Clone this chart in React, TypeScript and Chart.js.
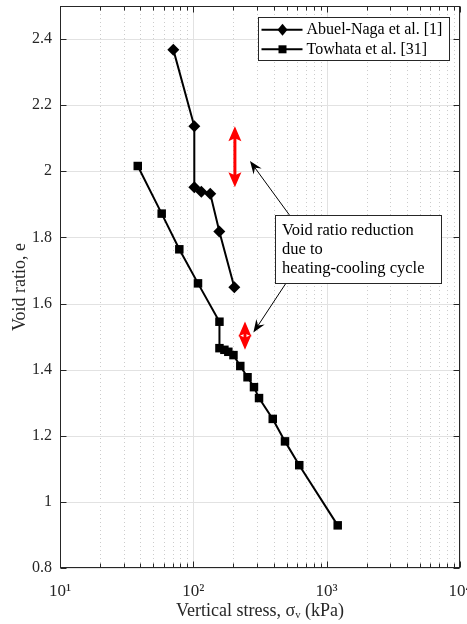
import React, { useEffect, useRef } from 'react';
import { Chart, registerables } from 'chart.js';

Chart.register(...registerables);

// ---------- data ----------
const seriesLabels = ['Abuel-Naga et al. [1]', 'Towhata et al. [31]'];
const abuelStress = [70.8, 101.7, 101.7, 114.8, 134, 156.7, 203];
const abuelVoid = [2.368, 2.136, 1.952, 1.938, 1.932, 1.818, 1.649];
const towhataStress = [38.3, 57.9, 78.5, 108.4, 157, 157, 171, 183, 200, 225, 255, 285, 311, 394, 487, 623, 1210];
const towhataVoid = [2.016, 1.872, 1.764, 1.661, 1.545, 1.465, 1.46, 1.454, 1.444, 1.411, 1.377, 1.347, 1.314, 1.251, 1.183, 1.111, 0.929];

const xMajorTicks = [10, 100, 1000, 10000];
const xTickLabels = ['10¹', '10²', '10³', '10⁴'];
const xMinorMultipliers = [2, 3, 4, 5, 6, 7, 8, 9];
const xDecades = [10, 100, 1000];
const yTicks = [0.8, 1, 1.2, 1.4, 1.6, 1.8, 2, 2.2, 2.4];
const yTickLabels = ['0.8', '1', '1.2', '1.4', '1.6', '1.8', '2', '2.2', '2.4'];

// annotations (data coordinates)
const redArrowX = [205, 244];
const redArrowTop = [2.136, 1.546];
const redArrowBottom = [1.952, 1.46];
const pointerFromX = [525, 496];
const pointerFromY = [1.868, 1.662];
const pointerToX = [266, 282];
const pointerToY = [2.031, 1.512];
const noteBoxX = [410, 7160];
const noteBoxY = [1.868, 1.662];
const noteLines = ['Void ratio reduction', 'due to', 'heating-cooling cycle'];

const FONT = "'Liberation Serif', 'Times New Roman', serif";
const INK = '#262626';

function arrowHead(ctx: CanvasRenderingContext2D, tx: number, ty: number, dx: number, dy: number, len: number, halfW: number, inset: number) {
  const n = Math.hypot(dx, dy) || 1;
  const ux = dx / n, uy = dy / n;
  const bx = tx - ux * len, by = ty - uy * len;
  const nx = -uy, ny = ux;
  ctx.beginPath();
  ctx.moveTo(tx, ty);
  ctx.lineTo(bx + nx * halfW, by + ny * halfW);
  ctx.lineTo(tx - ux * len * (1 - inset), ty - uy * len * (1 - inset));
  ctx.lineTo(bx - nx * halfW, by - ny * halfW);
  ctx.closePath();
  ctx.fill();
}

const decorPlugin = {
  id: 'decor',
  beforeDatasetsDraw(chart: any) {
    const { ctx, chartArea: a, scales } = chart;
    const x = scales.x, y = scales.y;
    ctx.save();
    ctx.lineWidth = 1;
    // minor x grid (dotted)
    ctx.strokeStyle = '#cccccc';
    ctx.setLineDash([1, 3]);
    xDecades.forEach((d) => {
      xMinorMultipliers.forEach((m) => {
        const px = Math.round(x.getPixelForValue(d * m)) + 0.5;
        ctx.beginPath();
        ctx.moveTo(px, a.top);
        ctx.lineTo(px, a.bottom);
        ctx.stroke();
      });
    });
    ctx.setLineDash([]);
    // major grid
    ctx.strokeStyle = '#e2e2e2';
    xMajorTicks.forEach((v) => {
      const px = Math.round(x.getPixelForValue(v)) + 0.5;
      ctx.beginPath();
      ctx.moveTo(px, a.top);
      ctx.lineTo(px, a.bottom);
      ctx.stroke();
    });
    yTicks.forEach((v) => {
      const py = Math.round(y.getPixelForValue(v)) + 0.5;
      ctx.beginPath();
      ctx.moveTo(a.left, py);
      ctx.lineTo(a.right, py);
      ctx.stroke();
    });
    ctx.restore();
  },
  afterDatasetsDraw(chart: any) {
    const { ctx, chartArea: a, scales } = chart;
    const x = scales.x, y = scales.y;
    ctx.save();
    // frame
    ctx.strokeStyle = INK;
    ctx.lineWidth = 1;
    const L = Math.round(a.left) + 0.5, R = Math.round(a.right) - 0.5;
    const T = Math.round(a.top) + 0.5, B = Math.round(a.bottom) - 0.5;
    ctx.strokeRect(L, T, R - L, B - T);
    // ticks
    ctx.beginPath();
    xMajorTicks.forEach((v) => {
      const px = Math.round(x.getPixelForValue(v)) + 0.5;
      ctx.moveTo(px, B); ctx.lineTo(px, B - 6);
      ctx.moveTo(px, T); ctx.lineTo(px, T + 6);
    });
    xDecades.forEach((d) => {
      xMinorMultipliers.forEach((m) => {
        const px = Math.round(x.getPixelForValue(d * m)) + 0.5;
        ctx.moveTo(px, B); ctx.lineTo(px, B - 4);
        ctx.moveTo(px, T); ctx.lineTo(px, T + 4);
      });
    });
    yTicks.forEach((v) => {
      const py = Math.round(y.getPixelForValue(v)) + 0.5;
      ctx.moveTo(L, py); ctx.lineTo(L + 6, py);
      ctx.moveTo(R, py); ctx.lineTo(R - 6, py);
    });
    ctx.stroke();

    // red double arrows
    ctx.fillStyle = '#ff0000';
    ctx.strokeStyle = '#ff0000';
    ctx.lineWidth = 3;
    redArrowX.forEach((v, i) => {
      const px = x.getPixelForValue(v);
      const pt = y.getPixelForValue(redArrowTop[i]);
      const pb = y.getPixelForValue(redArrowBottom[i]);
      ctx.beginPath();
      ctx.moveTo(px, pt + 10);
      ctx.lineTo(px, pb - 10);
      ctx.stroke();
      arrowHead(ctx, px, pt, 0, -1, 15, 6.5, 0.2);
      arrowHead(ctx, px, pb, 0, 1, 15, 6.5, 0.2);
    });

    // black pointer arrows
    ctx.strokeStyle = '#000';
    ctx.fillStyle = '#000';
    ctx.lineWidth = 1;
    pointerFromX.forEach((v, i) => {
      const fx = x.getPixelForValue(v), fy = y.getPixelForValue(pointerFromY[i]);
      const tx = x.getPixelForValue(pointerToX[i]), ty = y.getPixelForValue(pointerToY[i]);
      const dx = tx - fx, dy = ty - fy;
      const n = Math.hypot(dx, dy);
      ctx.beginPath();
      ctx.moveTo(fx, fy);
      ctx.lineTo(tx - (dx / n) * 8, ty - (dy / n) * 8);
      ctx.stroke();
      arrowHead(ctx, tx, ty, dx, dy, 13, 5, 0.35);
    });

    // note box
    const bx0 = Math.round(x.getPixelForValue(noteBoxX[0])) + 0.5;
    const bx1 = Math.round(x.getPixelForValue(noteBoxX[1])) + 0.5;
    const by0 = Math.round(y.getPixelForValue(noteBoxY[0])) + 0.5;
    const by1 = Math.round(y.getPixelForValue(noteBoxY[1])) + 0.5;
    ctx.fillStyle = '#fff';
    ctx.fillRect(bx0, by0, bx1 - bx0, by1 - by0);
    ctx.strokeStyle = INK;
    ctx.strokeRect(bx0, by0, bx1 - bx0, by1 - by0);
    ctx.fillStyle = '#000';
    ctx.font = `16.5px ${FONT}`;
    ctx.textAlign = 'left';
    ctx.textBaseline = 'middle';
    noteLines.forEach((t, i) => {
      ctx.fillText(t, bx0 + 6.5, by0 + 15 + i * 19.3);
    });

    // legend
    const lx0 = Math.round(a.right - 202) + 0.5;
    const lx1 = Math.round(a.right - 11) + 0.5;
    const ly0 = Math.round(a.top + 11) + 0.5;
    const ly1 = Math.round(a.top + 54) + 0.5;
    ctx.fillStyle = '#fff';
    ctx.fillRect(lx0, ly0, lx1 - lx0, ly1 - ly0);
    ctx.strokeStyle = INK;
    ctx.lineWidth = 1;
    ctx.strokeRect(lx0, ly0, lx1 - lx0, ly1 - ly0);
    chart.data.datasets.forEach((ds: any, i: number) => {
      const ry = a.top + 23.7 + i * 19.6;
      ctx.strokeStyle = '#000';
      ctx.lineWidth = 2;
      ctx.beginPath();
      ctx.moveTo(lx0 + 3, ry);
      ctx.lineTo(lx0 + 44, ry);
      ctx.stroke();
      ctx.fillStyle = '#000';
      const mx = lx0 + 24;
      ctx.beginPath();
      if (ds.pointStyle === 'rectRot') {
        ctx.moveTo(mx, ry - 6); ctx.lineTo(mx + 5, ry); ctx.lineTo(mx, ry + 6); ctx.lineTo(mx - 5, ry);
      } else {
        ctx.rect(mx - 4, ry - 4, 8, 8);
      }
      ctx.closePath();
      ctx.fill();
      ctx.font = `16px ${FONT}`;
      ctx.textBaseline = 'middle';
      ctx.fillText(ds.label, lx0 + 48, ry);
    });
    ctx.restore();
  },
};

export default function App() {
  const ref = useRef<HTMLCanvasElement | null>(null);
  useEffect(() => {
    if (!ref.current) return;
    const chart = new Chart(ref.current, {
      type: 'line',
      data: {
        datasets: [
          {
            label: seriesLabels[0],
            data: abuelStress.map((s, i) => ({ x: s, y: abuelVoid[i] })),
            borderColor: '#000',
            backgroundColor: '#000',
            borderWidth: 2,
            pointStyle: 'rectRot',
            pointRadius: 6,
            pointBorderWidth: 0,
            pointBackgroundColor: '#000',
            tension: 0,
          },
          {
            label: seriesLabels[1],
            data: towhataStress.map((s, i) => ({ x: s, y: towhataVoid[i] })),
            borderColor: '#000',
            backgroundColor: '#000',
            borderWidth: 2,
            pointStyle: 'rect',
            pointRadius: 6,
            pointBorderWidth: 0,
            pointBackgroundColor: '#000',
            tension: 0,
          },
        ],
      },
      options: {
        animation: false,
        responsive: false,
        devicePixelRatio: 1,
        layout: { padding: { top: 4, right: 7, left: 0, bottom: 0 } },
        plugins: { legend: { display: false }, tooltip: { enabled: false } },
        scales: {
          x: {
            type: 'logarithmic',
            min: 10,
            max: 10000,
            grid: { display: false, drawTicks: false },
            border: { display: false },
            afterBuildTicks: (s: any) => {
              s.ticks = xMajorTicks.map((v) => ({ value: v }));
            },
            afterFit: (s: any) => {
              s.height = 56;
              s.paddingLeft = 0;
              s.paddingRight = 0;
            },
            ticks: {
              autoSkip: false,
              maxRotation: 0,
              minRotation: 0,
              padding: 13,
              color: INK,
              font: { family: FONT, size: 17 },
              callback: (_v: any, i: number) => xTickLabels[i] ?? '',
            },
            title: {
              display: true,
              text: 'Vertical stress, σᵥ (kPa)',
              color: INK,
              font: { family: FONT, size: 18 },
              padding: { top: 0, bottom: 2 },
            },
          },
          y: {
            type: 'linear',
            min: 0.8,
            max: 2.5,
            grid: { display: false, drawTicks: false },
            border: { display: false },
            afterBuildTicks: (s: any) => {
              s.ticks = yTicks.map((v) => ({ value: v }));
            },
            afterFit: (s: any) => {
              s.width = 60;
              s.paddingTop = 0;
              s.paddingBottom = 0;
            },
            ticks: {
              autoSkip: false,
              padding: 8,
              color: INK,
              font: { family: FONT, size: 16 },
              callback: (_v: any, i: number) => yTickLabels[i] ?? '',
            },
            title: {
              display: true,
              text: 'Void ratio, e',
              color: INK,
              font: { family: FONT, size: 18 },
              padding: { top: 9, bottom: 0 },
            },
          },
        },
      },
      plugins: [decorPlugin],
    } as any);
    return () => chart.destroy();
  }, []);
  return (
    <div style={{ position: 'absolute', left: 0, top: 0, width: 467, height: 624, background: '#fff' }}>
      <canvas ref={ref} width={467} height={624} style={{ display: 'block' }} />
    </div>
  );
}
